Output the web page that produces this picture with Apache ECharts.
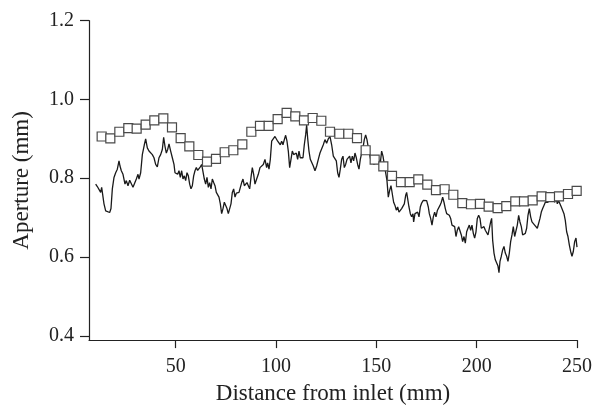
<!DOCTYPE html>
<html>
<head>
<meta charset="utf-8">
<script src="https://cdn.jsdelivr.net/npm/echarts@6/dist/echarts.min.js"></script>
<style>html,body{margin:0;padding:0;background:#fff;}#c{width:595px;height:410px;}</style>
</head>
<body>
<div id="c"></div>
<script>
// Measured aperture profile (solid line)
const lineX = [10.12,10.95,11.78,12.61,13.11,13.78,14.27,15.11,15.94,17.1,17.76,18.43,19.26,20.09,20.92,21.75,22.25,22.91,23.74,24.74,25.4,26.23,27.07,27.9,28.73,29.56,30.39,31.22,31.72,32.55,33.38,34.37,35.04,35.87,36.7,37.53,38.36,39.19,40.02,40.85,41.68,42.51,43.34,44.01,44.67,45.34,46.0,46.67,47.5,48.33,49.16,49.66,50.32,50.99,51.65,52.31,52.98,53.64,54.31,54.97,55.64,56.3,56.97,57.63,58.29,58.96,59.62,60.29,60.95,61.62,62.28,62.95,63.61,64.27,64.94,65.6,66.27,66.93,67.6,68.26,68.93,69.59,70.25,70.92,71.58,72.25,72.91,73.58,74.24,74.91,75.57,76.23,76.9,77.56,78.23,78.89,79.56,80.22,80.88,81.55,82.21,82.88,83.54,84.21,84.87,85.54,86.2,86.87,87.53,88.19,88.86,89.52,
90.35,91.18,92.01,92.84,93.67,94.5,95.33,95.83,96.5,97.16,97.83,98.66,99.49,100.15,100.82,101.48,102.14,102.81,103.47,104.14,104.8,105.47,106.13,106.8,107.46,108.12,108.79,109.45,110.12,110.78,111.45,112.11,112.78,113.44,114.1,114.77,115.27,115.77,116.43,117.09,117.76,118.59,119.42,120.25,121.08,121.91,122.74,123.57,124.4,125.23,126.06,126.89,127.73,128.56,129.39,130.05,130.72,131.38,132.04,132.71,133.37,134.04,134.7,135.37,136.03,136.7,137.36,138.02,138.69,139.35,140.02,140.68,141.35,142.01,142.68,143.34,144.0,144.67,145.33,146.0,146.66,147.33,147.99,148.66,149.32,149.98,150.65,151.31,151.98,152.64,153.31,153.97,154.64,155.3,155.96,156.63,157.29,157.96,158.62,159.29,159.95,160.61,161.28,161.94,162.61,163.27,163.94,164.6,165.1,165.6,166.26,166.93,167.59,168.26,168.59,169.25,169.92,170.58,171.25,171.91,172.58,173.41,
174.24,175.07,175.9,176.4,177.07,177.73,178.39,179.06,179.72,180.39,181.05,181.72,182.38,183.05,183.71,184.37,185.04,185.7,186.37,187.03,187.7,188.36,189.03,189.69,190.35,191.02,191.68,192.35,193.01,193.68,194.34,195.01,195.67,196.33,197.0,197.66,198.33,198.99,199.66,200.32,200.99,201.65,202.31,202.98,203.64,204.31,204.97,205.64,206.3,206.97,207.46,207.96,208.63,209.29,209.96,210.62,211.12,211.62,212.28,212.95,213.61,214.27,214.94,215.6,216.27,216.93,217.6,218.26,218.93,219.59,220.25,220.92,221.58,222.25,222.91,223.58,224.24,224.91,225.57,226.23,226.9,227.56,228.23,228.89,229.56,230.22,230.89,231.55,232.21,232.88,233.54,234.21,234.87,235.54,236.2,236.87,237.53,238.19,238.86,239.52,240.19,240.85,241.52,242.18,242.85,243.51,244.17,244.84,245.5,246.17,246.83,247.5,248.16,248.83,249.49,250.0];
const lineY = [0.785,0.779,0.781,0.764,0.777,0.775,0.735,0.717,0.713,0.713,0.723,0.773,0.802,0.814,0.823,0.844,0.831,0.819,0.81,0.785,0.794,0.781,0.795,0.794,0.777,0.773,0.798,0.81,0.798,0.814,0.86,0.885,0.9,0.877,0.869,0.873,0.86,0.852,0.835,0.829,0.852,0.86,0.873,0.904,0.881,0.864,0.873,0.887,0.869,0.852,0.835,0.814,0.819,0.81,0.819,0.802,0.819,0.798,0.806,0.794,0.814,0.806,0.785,0.773,0.781,0.806,0.819,0.827,0.82,0.825,0.829,0.835,0.831,0.798,0.785,0.802,0.777,0.789,0.773,0.798,0.789,0.781,0.764,0.769,0.752,0.735,0.71,0.723,0.739,0.744,0.723,0.71,0.714,0.735,0.764,0.773,0.752,0.762,0.767,0.764,0.769,0.789,0.798,0.781,0.777,0.789,0.781,0.773,0.802,0.827,0.81,0.785,
0.798,0.81,0.827,0.823,0.835,0.848,0.827,0.839,0.823,0.848,0.894,0.898,0.906,0.91,0.894,0.898,0.885,0.894,0.885,0.898,0.909,0.894,0.869,0.827,0.848,0.869,0.86,0.856,0.864,0.848,0.869,0.852,0.848,0.852,0.885,0.91,0.935,0.902,0.869,0.848,0.844,0.831,0.819,0.831,0.848,0.864,0.869,0.885,0.898,0.889,0.9,0.906,0.885,0.856,0.852,0.844,0.814,0.802,0.823,0.848,0.856,0.827,0.835,0.848,0.852,0.856,0.839,0.856,0.844,0.864,0.852,0.835,0.823,0.848,0.864,0.877,0.898,0.91,0.898,0.877,0.86,0.844,0.852,0.835,0.831,0.839,0.852,0.856,0.839,0.869,0.856,0.835,0.814,0.794,0.752,0.769,0.781,0.76,0.739,0.731,0.719,0.727,0.714,0.709,0.723,0.719,0.735,0.756,0.764,0.748,0.727,0.71,0.702,0.71,0.689,0.71,0.706,0.714,0.702,0.727,0.737,0.744,
0.748,0.743,0.727,0.71,0.698,0.681,0.702,0.714,0.702,0.718,0.723,0.731,0.739,0.752,0.739,0.723,0.71,0.714,0.706,0.698,0.681,0.681,0.677,0.652,0.668,0.677,0.673,0.656,0.639,0.652,0.635,0.664,0.673,0.681,0.668,0.681,0.66,0.648,0.664,0.698,0.706,0.698,0.673,0.673,0.677,0.668,0.668,0.656,0.652,0.689,0.698,0.643,0.61,0.593,0.598,0.577,0.56,0.589,0.602,0.618,0.627,0.61,0.602,0.589,0.61,0.639,0.656,0.677,0.652,0.648,0.681,0.706,0.689,0.677,0.656,0.652,0.66,0.673,0.706,0.723,0.702,0.689,0.685,0.681,0.677,0.673,0.668,0.698,0.714,0.723,0.731,0.739,0.743,0.739,0.752,0.748,0.764,0.756,0.739,0.752,0.735,0.743,0.748,0.727,0.723,0.71,0.693,0.664,0.652,0.631,0.614,0.602,0.614,0.639,0.648,0.625];

// Model / averaged aperture (open squares)
const squareX = [13.11,17.43,21.92,26.4,30.55,35.04,39.36,43.84,48.16,52.48,56.8,61.28,65.6,70.09,74.41,78.73,83.21,87.7,92.01,96.33,100.82,105.3,109.62,113.94,118.26,122.58,126.9,131.55,136.04,140.36,144.67,149.16,153.48,157.8,162.28,166.6,170.92,175.4,179.72,184.04,188.36,192.85,197.16,201.65,205.97,210.45,214.77,219.26,223.58,227.9,232.38,236.7,241.02,245.51,249.83];
const squareY = [0.906,0.901,0.918,0.927,0.926,0.936,0.947,0.952,0.929,0.902,0.881,0.859,0.842,0.849,0.866,0.871,0.886,0.918,0.933,0.933,0.95,0.966,0.957,0.947,0.953,0.946,0.918,0.913,0.913,0.902,0.871,0.847,0.83,0.806,0.79,0.79,0.797,0.784,0.77,0.772,0.758,0.737,0.734,0.735,0.728,0.724,0.729,0.741,0.741,0.744,0.754,0.752,0.754,0.76,0.768];

const xTicks = [50, 100, 150, 200, 250];
const yTicks = [0.4, 0.6, 0.8, 1.0, 1.2];
const xName = 'Distance from inlet (mm)';
const yName = 'Aperture (mm)';

const FONT = '"Liberation Serif", "Times New Roman", serif';
const INK = '#222';

const lineData = lineX.map((x, i) => [x, lineY[i]]);
const squareData = squareX.map((x, i) => [x, squareY[i]]);

const chart = echarts.init(document.getElementById('c'), null, {renderer: 'canvas'});
chart.setOption({
  animation: false,
  backgroundColor: '#fff',
  grid: {left: 89, right: 18, top: 20.7, bottom: 65, containLabel: false},
  xAxis: {
    type: 'value', min: 6.8, max: 250,
    name: xName, nameLocation: 'middle', nameGap: 36,
    nameTextStyle: {fontFamily: FONT, fontSize: 23, color: INK},
    axisLine: {show: true, lineStyle: {color: INK, width: 1.2}},
    axisTick: {show: true, inside: false, length: 8, customValues: xTicks, lineStyle: {color: INK, width: 1.2}},
    axisLabel: {customValues: xTicks, margin: 17, fontFamily: FONT, fontSize: 20, color: INK},
    splitLine: {show: false}
  },
  yAxis: {
    type: 'value', min: 0.389, max: 1.2,
    name: yName, nameLocation: 'middle', nameGap: 56, nameRotate: 90,
    nameTextStyle: {fontFamily: FONT, fontSize: 23, color: INK},
    axisLine: {show: true, lineStyle: {color: INK, width: 1.2}},
    axisTick: {show: true, inside: false, length: 9, customValues: yTicks, lineStyle: {color: INK, width: 1.2}},
    axisLabel: {customValues: yTicks, margin: 15, fontFamily: FONT, fontSize: 20, color: INK,
      formatter: v => Number(v).toFixed(1)},
    splitLine: {show: false}
  },
  series: [
    {type: 'line', data: lineData, showSymbol: false, symbol: 'none', clip: true,
     lineStyle: {color: '#1a1a1a', width: 1.3}, z: 2},
    {type: 'scatter', data: squareData, symbol: 'rect', symbolSize: 9,
     itemStyle: {color: '#fff', borderColor: '#4a4a4a', borderWidth: 1.2, opacity: 1}, z: 3}
  ]
});
</script>
</body>
</html>
